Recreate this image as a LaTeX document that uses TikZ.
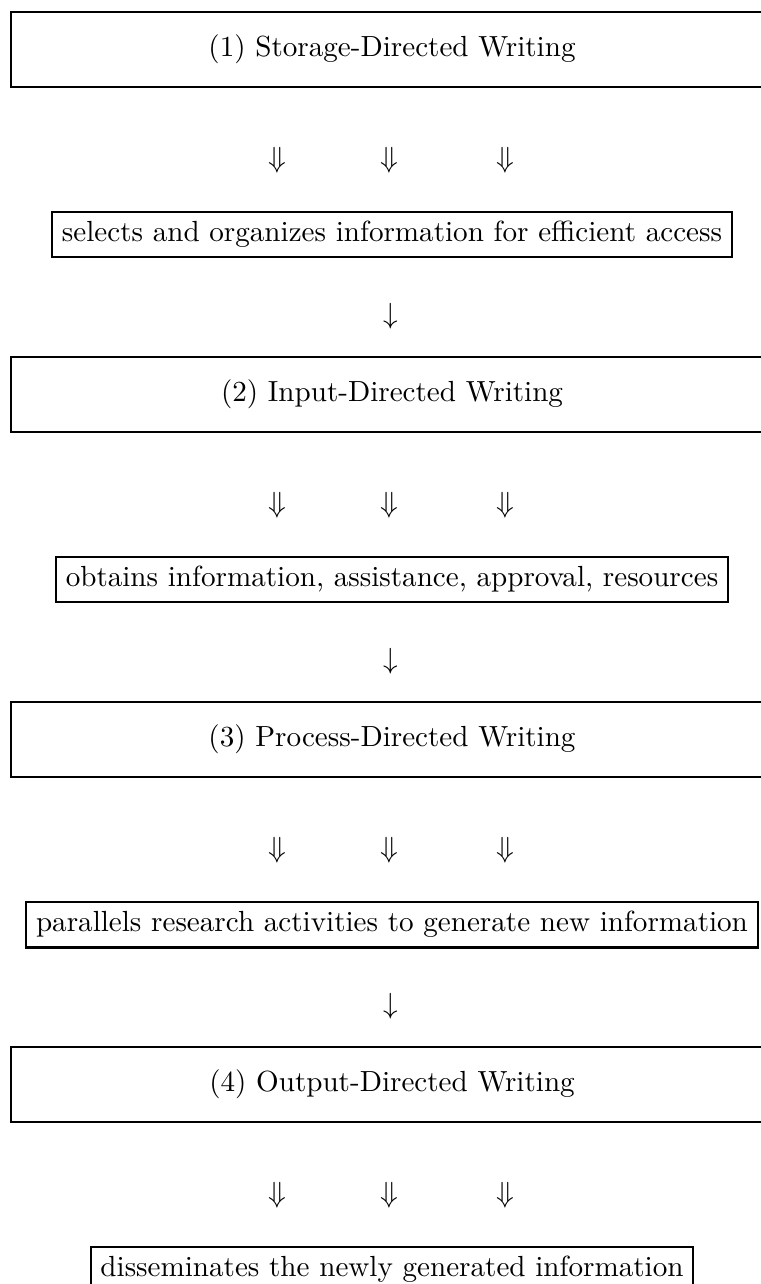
\documentclass[tikz,border=0pt]{standalone}
\usepackage{amsmath}
\usepackage{amssymb}
\usepackage{tikz}

\begin{document}
\begin{tikzpicture}[x=0.3434pt, y=-0.3434pt,
		bigbox/.style={draw, line width=0.7pt, minimum width=261.7pt, minimum height=25.75pt},
		smallbox/.style={draw, line width=0.7pt},
		glyph/.style={inner sep=0pt}]
	
	% Page frame (the right side of the big boxes is cut off)
	\useasboundingbox (0,0) rectangle (761,1284);
	\clip (0,0) rectangle (761,1284);
	
	% Stage 1
	\node[bigbox] (stor) at (392,49.5) {(1) Storage-Directed Writing};
	\foreach \x/\n in {277/a,389/b,505/c}
	\node[glyph] (dn1\n) at (\x,160) {$\Downarrow$};
	\node[smallbox] (selects) at (392,234.5) {selects and organizes information for efficient access};
	\node[glyph] (arr1) at (391,316) {$\downarrow$};
	
	% Stage 2
	\node[bigbox] (inp) at (392,394.5) {(2) Input-Directed Writing};
	\foreach \x/\n in {277/a,389/b,505/c}
	\node[glyph] (dn2\n) at (\x,505) {$\Downarrow$};
	\node[smallbox] (obtains) at (392,579.5) {obtains information, assistance, approval, resources};
	\node[glyph] (arr2) at (391,661) {$\downarrow$};
	
	% Stage 3
	\node[bigbox] (proc) at (392,739.5) {(3) Process-Directed Writing};
	\foreach \x/\n in {277/a,389/b,505/c}
	\node[glyph] (dn3\n) at (\x,850) {$\Downarrow$};
	\node[smallbox] (parallels) at (392,924.5) {parallels research activities to generate new information};
	\node[glyph] (arr3) at (391,1006) {$\downarrow$};
	
	% Stage 4
	\node[bigbox] (outp) at (392,1084.5) {(4) Output-Directed Writing};
	\foreach \x/\n in {277/a,389/b,505/c}
	\node[glyph] (dn4\n) at (\x,1195) {$\Downarrow$};
	\node[smallbox] (dissem) at (392,1269.5) {disseminates the newly generated information};
	
\end{tikzpicture}
\end{document}
